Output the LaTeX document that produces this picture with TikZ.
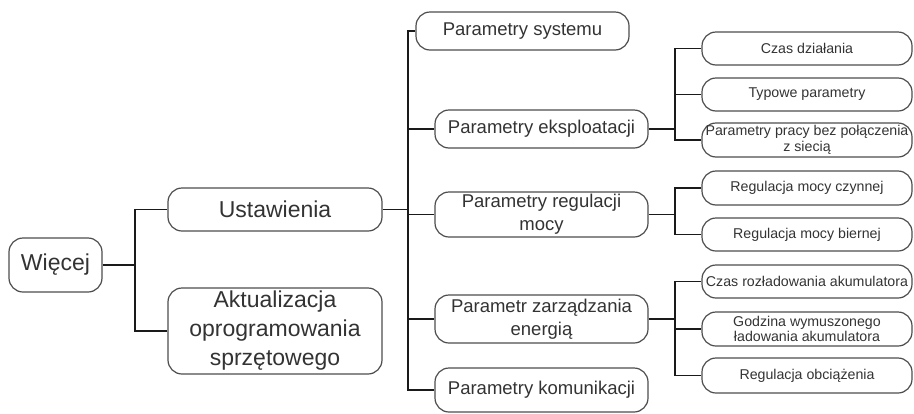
\documentclass[tikz,border=0pt]{standalone}
\usepackage{fontspec}
\setmainfont{Liberation Sans}
\definecolor{txt}{HTML}{333333}
\definecolor{brd}{HTML}{4D4D4D}
\definecolor{lnk}{HTML}{1A1A1A}
\tikzset{
  box/.style={draw=brd, line width=1.2pt, rounded corners=14pt, inner sep=0pt, align=center, text=txt},
  lvlone/.style={box, minimum width=214pt, font=\fontsize{23}{29}\selectfont},
  lvltwo/.style={box, minimum width=213pt, font=\fontsize{18.5}{23}\selectfont},
  lvlthree/.style={box, minimum width=210pt, font=\fontsize{14.2}{15.5}\selectfont},
  link/.style={draw=lnk, line width=1.4pt}
}
\begin{document}
\begin{tikzpicture}[x=1pt,y=-1pt]
\useasboundingbox (0,0) rectangle (914,413);
% level 0
\node[box, minimum width=93pt, minimum height=54pt, font=\fontsize{23}{29}\selectfont] (wiecej) at (55.5,265) {Więcej};
% level 1
\node[lvlone, minimum height=43pt] (ust) at (275,209.5) {Ustawienia};
\node[lvlone, minimum height=86pt] (akt) at (275,331) {Aktualizacja\\oprogramowania\\sprzętowego};
% level 2
\node[lvltwo, minimum height=38pt] (sys) at (522.5,31) {Parametry systemu};
\node[lvltwo, minimum height=38pt] (eks) at (541.5,129) {Parametry eksploatacji};
\node[lvltwo, minimum height=45pt] (reg) at (541.5,214.5) {Parametry regulacji\\mocy};
\node[lvltwo, minimum height=48pt] (ene) at (541.5,319) {Parametr zarządzania\\energią};
\node[lvltwo, minimum height=44pt] (kom) at (541.5,390) {Parametry komunikacji};
% level 3
\node[lvlthree, minimum height=33pt] (czas) at (807,48.5) {Czas działania};
\node[lvlthree, minimum height=33pt] (typ) at (807,94.5) {Typowe parametry};
\node[lvlthree, minimum height=34pt] (prac) at (807,140) {Parametry pracy bez połączenia\\z siecią};
\node[lvlthree, minimum height=34pt] (czyn) at (807,188) {Regulacja mocy czynnej};
\node[lvlthree, minimum height=33pt] (bier) at (807,234.5) {Regulacja mocy biernej};
\node[lvlthree, minimum height=33pt] (roz) at (807,281.5) {Czas rozładowania akumulatora};
\node[lvlthree, minimum height=34pt] (godz) at (807,329) {Godzina wymuszonego\\ładowania akumulatora};
\node[lvlthree, minimum height=35pt] (obc) at (807,375.5) {Regulacja obciążenia};
% junctions
\coordinate (j0) at (135,265);
\coordinate (j1) at (408,209.5);
\coordinate (j2) at (675,129);
\coordinate (j3) at (675,214.5);
\coordinate (j4) at (675,319);
% connectors
\draw[link] (wiecej.east) -- (j0) |- (ust.west);
\draw[link] (j0) |- (akt.west);
\draw[link] (ust.east) -- (j1);
\draw[link] (j1) |- (sys.west);
\draw[link] (j1) |- (eks.west);
\draw[link] (j1) |- (reg.west);
\draw[link] (j1) |- (ene.west);
\draw[link] (j1) |- (kom.west);
\draw[link] (eks.east) -- (j2);
\draw[link] (j2) |- (czas.west);
\draw[link] (j2) |- (typ.west);
\draw[link] (j2) |- (prac.west);
\draw[link] (reg.east) -- (j3);
\draw[link] (j3) |- (czyn.west);
\draw[link] (j3) |- (bier.west);
\draw[link] (ene.east) -- (j4);
\draw[link] (j4) |- (roz.west);
\draw[link] (j4) |- (godz.west);
\draw[link] (j4) |- (obc.west);
\end{tikzpicture}
\end{document}
